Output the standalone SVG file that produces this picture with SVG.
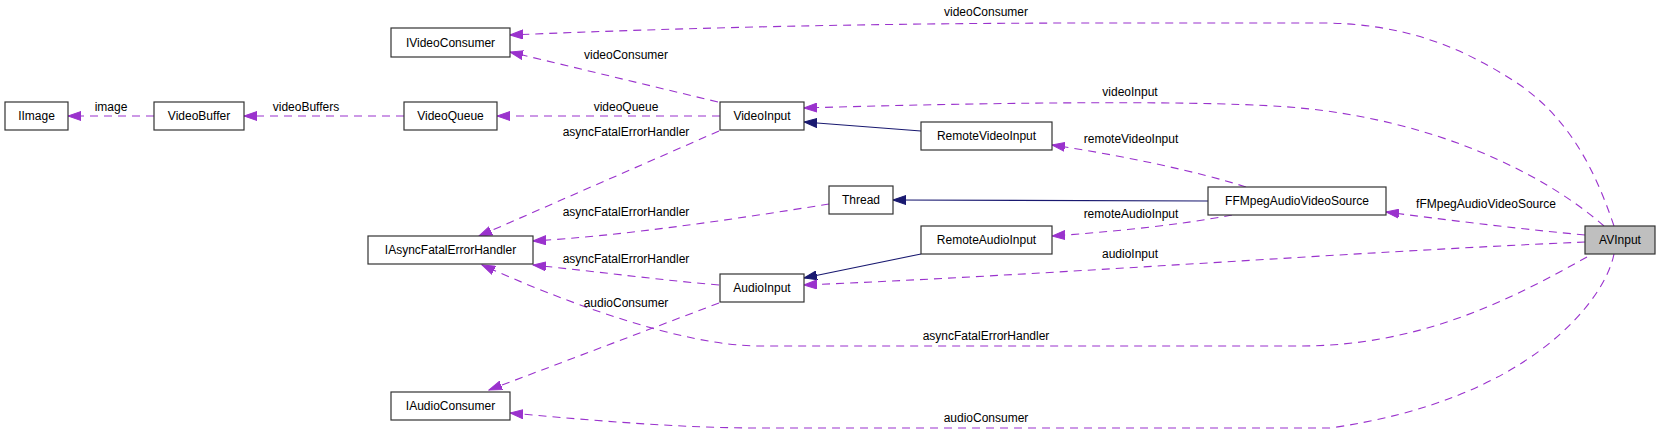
<svg xmlns="http://www.w3.org/2000/svg" width="1661" height="433" viewBox="0 0 1661 433">
<style>
  .node rect { fill: #ffffff; stroke: #333333; stroke-width: 1.2; }
  .node.root rect { fill: #bfbfbf; }
  .node text { font-family: "Liberation Sans", Arial, sans-serif; font-size: 12px; fill: #000; text-anchor: middle; }
  .lbl { font-family: "Liberation Sans", Arial, sans-serif; font-size: 12px; fill: #000; text-anchor: middle; }
  .use { fill: none; stroke: #9a32cd; stroke-width: 1.1; stroke-dasharray: 8,6; marker-end: url(#pa); }
  .inh { fill: none; stroke: #191970; stroke-width: 1.1; marker-end: url(#ba); }
</style>
<defs>
  <marker id="pa" markerUnits="userSpaceOnUse" markerWidth="14" markerHeight="10" refX="13" refY="5" orient="auto">
    <path d="M0,0.5 L13,5 L0,9.5 z" fill="#9a32cd" stroke="#9a32cd" stroke-width="1"/>
  </marker>
  <marker id="ba" markerUnits="userSpaceOnUse" markerWidth="14" markerHeight="10" refX="13" refY="5" orient="auto">
    <path d="M0,0.5 L13,5 L0,9.5 z" fill="#191970" stroke="#191970" stroke-width="1"/>
  </marker>
</defs>
<rect width="1661" height="433" fill="#ffffff"/>
<g id="connectors">
  <path class="use" d="M154,116 L68,116"/>
  <path class="use" d="M404,116 L244,116"/>
  <path class="use" d="M720,116 L497,116"/>
  <path class="use" d="M718,102 L510,52"/>
  <path class="use" d="M1614,226 C1595,170 1570,120 1520,85 C1460,45 1400,23 1320,23 L1100,23 C900,23 700,27 510,35"/>
  <path class="use" d="M1604,226 C1540,170 1430,120 1300,108 C1220,100 1000,102 804,108"/>
  <path class="inh" d="M921,131 L804,122"/>
  <path class="use" d="M1246,187 C1200,172 1120,155 1052,145"/>
  <path class="inh" d="M1208,201 L893,200"/>
  <path class="use" d="M1232,215 C1180,225 1110,232 1052,236"/>
  <path class="use" d="M829,204 C730,220 620,236 533,241"/>
  <path class="use" d="M719,131 L479,236"/>
  <path class="use" d="M719,285 C660,280 600,272 533,265"/>
  <path class="inh" d="M921,254 L804,278"/>
  <path class="use" d="M1585,242 C1350,252 1050,275 804,285"/>
  <path class="use" d="M1585,235 C1510,228 1440,219 1386,212"/>
  <path class="use" d="M719,303 L489,390"/>
  <path class="use" d="M1587,257 C1510,300 1420,346 1300,346 L760,346 C680,346 560,300 482,265"/>
  <path class="use" d="M1614,254 C1605,300 1530,400 1330,428 L760,428 C680,428 600,421 510,413"/>
  <text class="lbl" x="111" y="111">image</text>
  <text class="lbl" x="306" y="111">videoBuffers</text>
  <text class="lbl" x="986" y="16">videoConsumer</text>
  <text class="lbl" x="626" y="59">videoConsumer</text>
  <text class="lbl" x="626" y="111">videoQueue</text>
  <text class="lbl" x="626" y="136">asyncFatalErrorHandler</text>
  <text class="lbl" x="1130" y="96">videoInput</text>
  <text class="lbl" x="1131" y="143">remoteVideoInput</text>
  <text class="lbl" x="626" y="216">asyncFatalErrorHandler</text>
  <text class="lbl" x="1131" y="218">remoteAudioInput</text>
  <text class="lbl" x="1486" y="208">fFMpegAudioVideoSource</text>
  <text class="lbl" x="626" y="263">asyncFatalErrorHandler</text>
  <text class="lbl" x="1130" y="258">audioInput</text>
  <text class="lbl" x="626" y="307">audioConsumer</text>
  <text class="lbl" x="986" y="340">asyncFatalErrorHandler</text>
  <text class="lbl" x="986" y="422">audioConsumer</text>
</g>
<g id="IVideoConsumer" class="node"><rect x="391" y="28" width="119" height="29"/><text x="450.5" y="46.5">IVideoConsumer</text></g>
<g id="IImage" class="node"><rect x="5" y="102" width="63" height="28"/><text x="36.5" y="120">IImage</text></g>
<g id="VideoBuffer" class="node"><rect x="154" y="102" width="90" height="28"/><text x="199" y="120">VideoBuffer</text></g>
<g id="VideoQueue" class="node"><rect x="404" y="102" width="93" height="28"/><text x="450.5" y="120">VideoQueue</text></g>
<g id="VideoInput" class="node"><rect x="720" y="102" width="84" height="28"/><text x="762" y="120">VideoInput</text></g>
<g id="RemoteVideoInput" class="node"><rect x="921" y="122" width="131" height="28"/><text x="986.5" y="140">RemoteVideoInput</text></g>
<g id="Thread" class="node"><rect x="829" y="186" width="64" height="28"/><text x="861" y="204">Thread</text></g>
<g id="RemoteAudioInput" class="node"><rect x="921" y="226" width="131" height="28"/><text x="986.5" y="244">RemoteAudioInput</text></g>
<g id="AudioInput" class="node"><rect x="720" y="274" width="84" height="28"/><text x="762" y="292">AudioInput</text></g>
<g id="FFMpegAudioVideoSource" class="node"><rect x="1208" y="187" width="178" height="28"/><text x="1297" y="205">FFMpegAudioVideoSource</text></g>
<g id="AVInput" class="node root"><rect x="1585" y="226" width="70" height="28"/><text x="1620" y="244">AVInput</text></g>
<g id="IAsyncFatalErrorHandler" class="node"><rect x="368" y="236" width="165" height="28"/><text x="450.5" y="254">IAsyncFatalErrorHandler</text></g>
<g id="IAudioConsumer" class="node"><rect x="391" y="392" width="119" height="28"/><text x="450.5" y="410">IAudioConsumer</text></g>
</svg>
